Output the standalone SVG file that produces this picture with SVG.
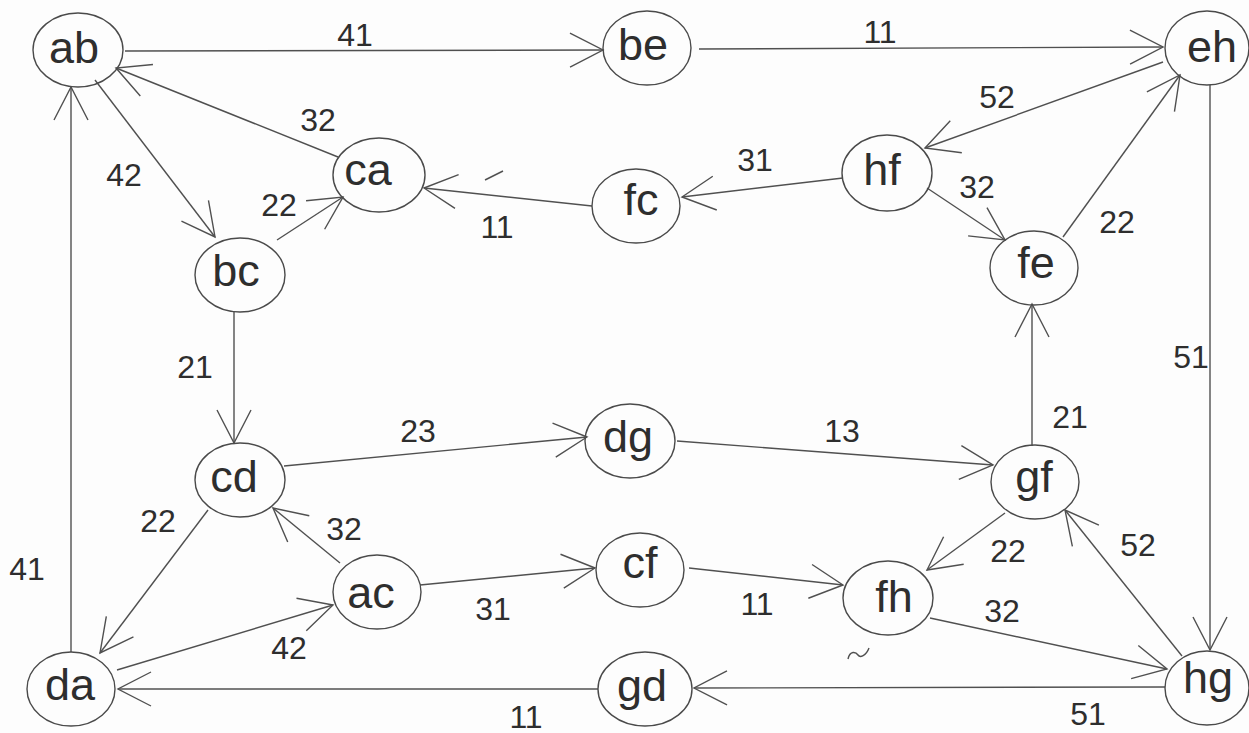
<svg xmlns="http://www.w3.org/2000/svg" width="1249" height="733" viewBox="0 0 1249 733">
<defs>
<style>
.node ellipse{fill:none;stroke:#4a4a4a;stroke-width:1.4}
.node text{font-family:"Liberation Sans",Arial,sans-serif;font-size:45px;fill:#2e2e2e;text-anchor:middle}
.edge{fill:none;stroke:#505050;stroke-width:1.4;marker-end:url(#arr)}
.lbl{font-family:"Liberation Sans",Arial,sans-serif;font-size:32px;fill:#2e2e2e;text-anchor:middle}
.mark{fill:none;stroke:#505050;stroke-width:1.4}
</style>
<marker id="arr" markerWidth="44" markerHeight="44" refX="34" refY="18" orient="auto" markerUnits="userSpaceOnUse">
<path d="M1,1 L34,18 L1,35" fill="none" stroke="#505050" stroke-width="1.4"/>
</marker>
</defs>
<rect width="1249" height="733" fill="#fdfdfd"/>

<g id="connectors">
<line class="edge" x1="125" y1="51" x2="603" y2="50"/>
<line class="edge" x1="699" y1="49" x2="1163" y2="47"/>
<line class="edge" x1="1163" y1="62" x2="925" y2="148"/>
<line class="edge" x1="927" y1="188" x2="1005" y2="240"/>
<line class="edge" x1="1063" y1="237" x2="1180" y2="75"/>
<line class="edge" x1="1210" y1="85" x2="1210" y2="650"/>
<line class="edge" x1="338" y1="157" x2="116" y2="68"/>
<line class="edge" x1="95" y1="80" x2="215" y2="237"/>
<line class="edge" x1="277" y1="240" x2="343" y2="197"/>
<line class="edge" x1="71" y1="652" x2="71" y2="87"/>
<line class="edge" x1="843" y1="178" x2="682" y2="197"/>
<line class="edge" x1="592" y1="206" x2="424" y2="188"/>
<line class="edge" x1="234" y1="312" x2="234" y2="443"/>
<line class="edge" x1="284" y1="466" x2="587" y2="437"/>
<line class="edge" x1="677" y1="441" x2="993" y2="465"/>
<line class="edge" x1="1032" y1="446" x2="1032" y2="304"/>
<line class="edge" x1="1182" y1="656" x2="1065" y2="510"/>
<line class="edge" x1="1005" y1="513" x2="927" y2="570"/>
<line class="edge" x1="930" y1="618" x2="1167" y2="669"/>
<line class="edge" x1="1165" y1="687" x2="694" y2="688"/>
<line class="edge" x1="598" y1="689" x2="118" y2="689"/>
<line class="edge" x1="208" y1="510" x2="100" y2="653"/>
<line class="edge" x1="117" y1="670" x2="333" y2="605"/>
<line class="edge" x1="340" y1="563" x2="273" y2="508"/>
<line class="edge" x1="420" y1="585" x2="595" y2="568"/>
<line class="edge" x1="689" y1="568" x2="843" y2="585"/>

<text class="lbl" x="355" y="46">41</text>
<text class="lbl" x="880" y="43">11</text>
<text class="lbl" x="997" y="108">52</text>
<text class="lbl" x="977" y="198">32</text>
<text class="lbl" x="1117" y="233">22</text>
<text class="lbl" x="1191" y="368">51</text>
<text class="lbl" x="318" y="131">32</text>
<text class="lbl" x="124" y="186">42</text>
<text class="lbl" x="279" y="216">22</text>
<text class="lbl" x="27" y="580">41</text>
<text class="lbl" x="755" y="171">31</text>
<text class="lbl" x="497" y="238">11</text>
<text class="lbl" x="195" y="378">21</text>
<text class="lbl" x="418" y="442">23</text>
<text class="lbl" x="842" y="442">13</text>
<text class="lbl" x="1070" y="428">21</text>
<text class="lbl" x="1138" y="556">52</text>
<text class="lbl" x="1008" y="562">22</text>
<text class="lbl" x="1002" y="622">32</text>
<text class="lbl" x="1088" y="725">51</text>
<text class="lbl" x="526" y="728">11</text>
<text class="lbl" x="158" y="532">22</text>
<text class="lbl" x="289" y="659">42</text>
<text class="lbl" x="344" y="540">32</text>
<text class="lbl" x="493" y="620">31</text>
<text class="lbl" x="757" y="615">11</text>
</g>

<g id="node-ab" class="node"><ellipse cx="78" cy="50" rx="45" ry="37"/><text x="74" y="63">ab</text></g>
<g id="node-be" class="node"><ellipse cx="647" cy="48" rx="44" ry="37"/><text x="643" y="60">be</text></g>
<g id="node-eh" class="node"><ellipse cx="1207" cy="48" rx="42" ry="37"/><text x="1212" y="62">eh</text></g>
<g id="node-hf" class="node"><ellipse cx="887" cy="173" rx="45" ry="38"/><text x="882" y="185">hf</text></g>
<g id="node-fe" class="node"><ellipse cx="1034" cy="268" rx="44" ry="37"/><text x="1036" y="278">fe</text></g>
<g id="node-ca" class="node"><ellipse cx="379" cy="175" rx="46" ry="37"/><text x="368" y="185">ca</text></g>
<g id="node-bc" class="node"><ellipse cx="240" cy="275" rx="45" ry="37"/><text x="236" y="286">bc</text></g>
<g id="node-fc" class="node"><ellipse cx="636" cy="206" rx="44" ry="37"/><text x="641" y="215">fc</text></g>
<g id="node-cd" class="node"><ellipse cx="240" cy="480" rx="45" ry="37"/><text x="234" y="492">cd</text></g>
<g id="node-dg" class="node"><ellipse cx="630" cy="441" rx="45" ry="37"/><text x="628" y="452">dg</text></g>
<g id="node-gf" class="node"><ellipse cx="1035" cy="482" rx="44" ry="37"/><text x="1034" y="492">gf</text></g>
<g id="node-ac" class="node"><ellipse cx="377" cy="592" rx="44" ry="37"/><text x="371" y="608">ac</text></g>
<g id="node-cf" class="node"><ellipse cx="640" cy="570" rx="44" ry="37"/><text x="640" y="578">cf</text></g>
<g id="node-fh" class="node"><ellipse cx="888" cy="598" rx="45" ry="37"/><text x="894" y="612">fh</text></g>
<g id="node-da" class="node"><ellipse cx="71" cy="689" rx="44" ry="37"/><text x="70" y="700">da</text></g>
<g id="node-gd" class="node"><ellipse cx="645" cy="689" rx="47" ry="37"/><text x="642" y="701">gd</text></g>
<g id="node-hg" class="node"><ellipse cx="1207" cy="688" rx="42" ry="37"/><text x="1208" y="693">hg</text></g>

<path class="mark" d="M485,180 L503,171"/>
<path class="mark" d="M848,659 C850,650 856,652 858,655 C860,658 866,656 869,648"/>
</svg>
